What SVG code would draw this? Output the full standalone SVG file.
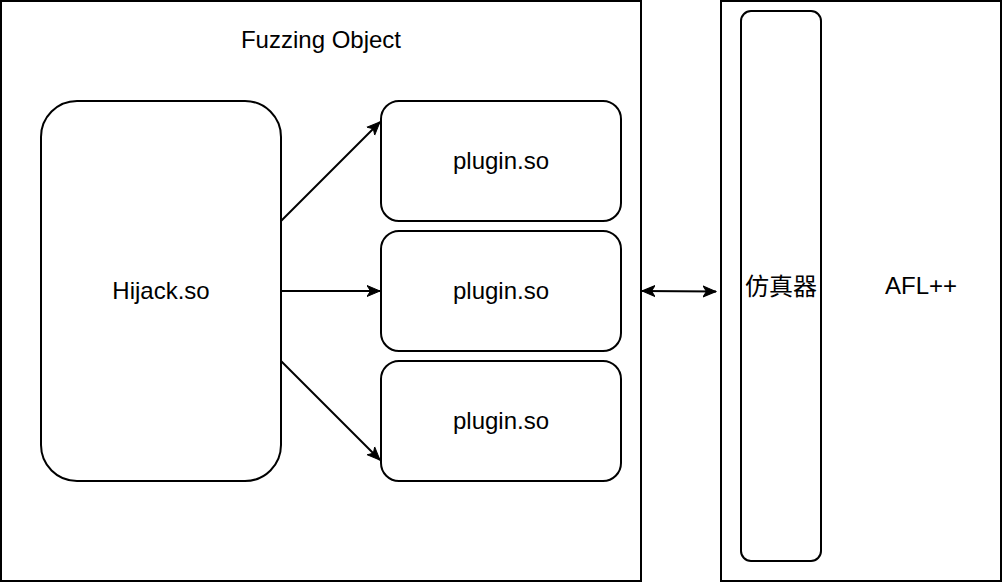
<svg xmlns="http://www.w3.org/2000/svg" width="1002" height="582" viewBox="0 0 1002 582">
<style>
.box{fill:#fff;stroke:#000;stroke-width:2}
.t{font-family:"Liberation Sans",Arial,"Noto Sans CJK SC",sans-serif;font-size:24px;fill:#000;text-anchor:middle;dominant-baseline:central}
.c{stroke:#000;stroke-width:2;fill:none}
</style>
<defs>
<marker id="a" markerWidth="14" markerHeight="14" viewBox="0 0 14 14" refX="13" refY="7" orient="auto-start-reverse" markerUnits="userSpaceOnUse">
<path d="M0,1.5 L13,7 L0,12.5 L3.5,7 Z" fill="#000" stroke="#000" stroke-width="1"/>
</marker>
</defs>
<rect width="1002" height="582" fill="#fff"/>
<g id="fuzzing-object">
<rect class="box" x="1" y="1" width="640" height="580"/>
<text class="t" x="321" y="39">Fuzzing Object</text>
</g>
<g id="afl">
<rect class="box" x="721" y="1" width="280" height="580"/>
<text class="t" x="921" y="285">AFL++</text>
</g>
<g id="emulator">
<rect class="box" x="741" y="11" width="80" height="550" rx="10"/>
<text class="t" x="781" y="286">仿真器</text>
</g>
<g id="hijack">
<rect class="box" x="41" y="101" width="240" height="380" rx="36"/>
<text class="t" x="161" y="290">Hijack.so</text>
</g>
<g id="plugin1">
<rect class="box" x="381" y="101" width="240" height="120" rx="18"/>
<text class="t" x="501" y="160">plugin.so</text>
</g>
<g id="plugin2">
<rect class="box" x="381" y="231" width="240" height="120" rx="18"/>
<text class="t" x="501" y="290">plugin.so</text>
</g>
<g id="plugin3">
<rect class="box" x="381" y="361" width="240" height="120" rx="18"/>
<text class="t" x="501" y="420">plugin.so</text>
</g>
<g id="connectors">
<line class="c" x1="281" y1="221" x2="380" y2="122" marker-end="url(#a)"/>
<line class="c" x1="281" y1="291" x2="380" y2="291" marker-end="url(#a)"/>
<line class="c" x1="281" y1="361" x2="380" y2="460" marker-end="url(#a)"/>
<line class="c" x1="642" y1="291" x2="716" y2="291.5" marker-start="url(#a)" marker-end="url(#a)"/>
</g>
</svg>
